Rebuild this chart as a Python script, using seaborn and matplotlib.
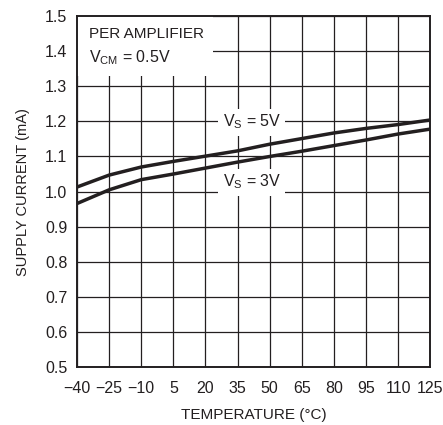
import matplotlib
matplotlib.use("Agg")
import matplotlib.pyplot as plt
import seaborn as sns
import pandas as pd

temps = [-40, -25, -10, 5, 20, 35, 50, 65, 80, 95, 110, 125]
i_vs5 = [1.013, 1.047, 1.070, 1.086, 1.101, 1.116, 1.135, 1.151, 1.167, 1.180, 1.191, 1.204]
i_vs3 = [0.966, 1.005, 1.034, 1.050, 1.067, 1.084, 1.100, 1.115, 1.131, 1.147, 1.164, 1.178]
x_ticks = [-40, -25, -10, 5, 20, 35, 50, 65, 80, 95, 110, 125]
y_ticks = [0.5, 0.6, 0.7, 0.8, 0.9, 1.0, 1.1, 1.2, 1.3, 1.4, 1.5]

sns.set_theme(style="white")
plt.rcParams['font.family'] = ['Liberation Sans', 'DejaVu Sans']
plt.rcParams['axes.unicode_minus'] = True
plt.rcParams['mathtext.fontset'] = 'custom'
plt.rcParams['mathtext.rm'] = 'Liberation Sans'

df = pd.DataFrame({
    "temp": temps * 2,
    "current": i_vs5 + i_vs3,
    "series": ["5V"] * len(temps) + ["3V"] * len(temps),
})

fig = plt.figure(figsize=(4.43, 4.25), dpi=100)
ax = fig.add_axes([0.174, 0.1365, 0.797, 0.8255])
ink = "#231f20"
sns.lineplot(data=df, x="temp", y="current", hue="series",
             palette={"5V": ink, "3V": ink}, linewidth=2.5, legend=False, ax=ax, zorder=3)

ax.set_xlim(-40, 125)
ax.set_ylim(0.5, 1.5)
ax.set_xticks(x_ticks)
ax.set_xticklabels([("\u2212" + str(-t)) if t < 0 else str(t) for t in x_ticks])
ax.set_yticks(y_ticks)
ax.set_yticklabels([f"{v:.1f}" for v in y_ticks])
ax.grid(True, color=ink, linewidth=0.9)
ax.tick_params(axis="both", length=0, labelsize=11.5, colors=ink)
ax.tick_params(axis="x", pad=10)
ax.tick_params(axis="y", pad=7)
for s in ax.spines.values():
    s.set_color(ink)
    s.set_linewidth(1.4)
ax.set_xlabel("TEMPERATURE (\u00b0C)", fontsize=11, color=ink, labelpad=9)
ax.set_ylabel("SUPPLY CURRENT (mA)", fontsize=10.5, color=ink, labelpad=11)

bbox = dict(facecolor="white", edgecolor="none", pad=3)
ax.text(28, 1.198, r"V$_\mathregular{S}$ = 5V", fontsize=11.5, color=ink, va="center",
        ha="left", bbox=bbox, zorder=4)
ax.text(28, 1.027, r"V$_\mathregular{S}$ = 3V", fontsize=11.5, color=ink, va="center",
        ha="left", bbox=bbox, zorder=4)
ax.add_patch(plt.Rectangle((-40, 1.33), 63.5, 0.17, facecolor="white", edgecolor="none", zorder=2.5))
ax.text(-34.5, 1.45, "PER AMPLIFIER", fontsize=11, color=ink, va="center", ha="left", zorder=4)
ax.text(-34.5, 1.383, r"V$_\mathregular{CM}$ = 0.5V", fontsize=11.5, color=ink, va="center", ha="left", zorder=4)

fig.savefig("out.png", dpi=100)
